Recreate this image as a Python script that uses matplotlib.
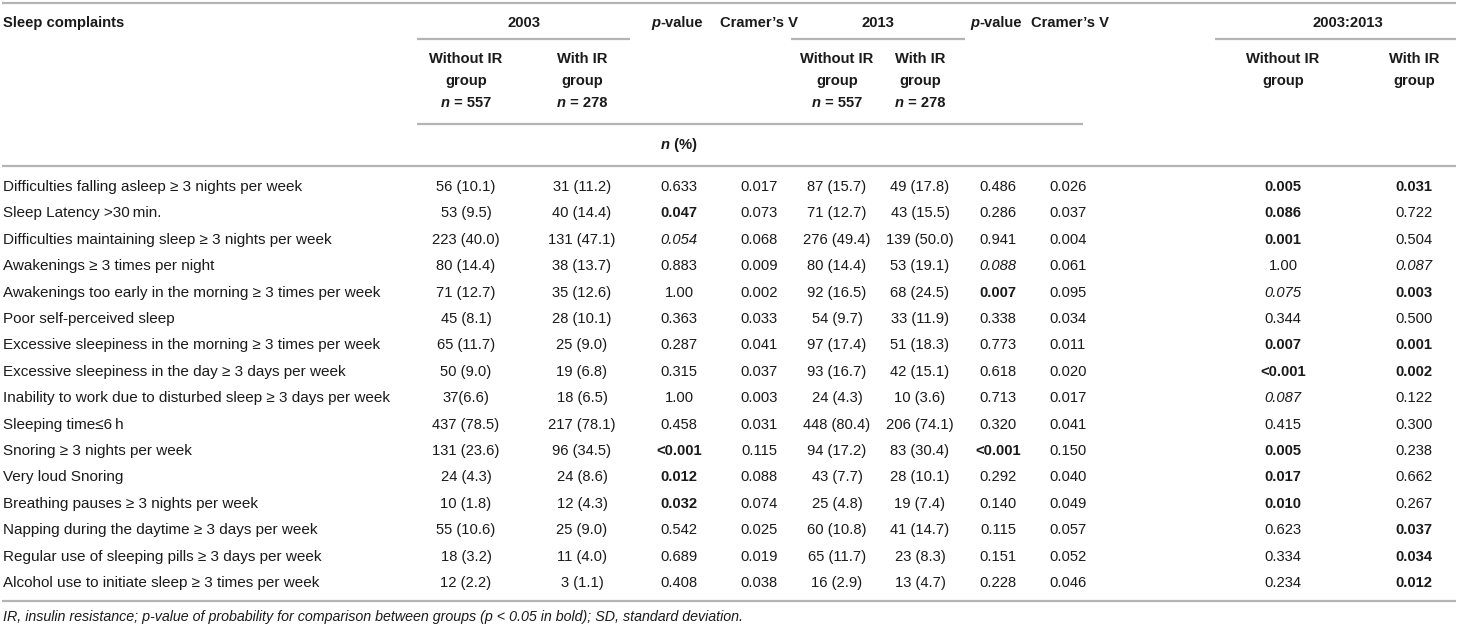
import matplotlib.pyplot as plt

# dados da tabela
complaints = [
    "Difficulties falling asleep \u2265 3 nights per week",
    "Sleep Latency >30\u2009min.",
    "Difficulties maintaining sleep \u2265 3 nights per week",
    "Awakenings \u2265 3 times per night",
    "Awakenings too early in the morning \u2265 3 times per week",
    "Poor self-perceived sleep",
    "Excessive sleepiness in the morning \u2265 3 times per week",
    "Excessive sleepiness in the day \u2265 3 days per week",
    "Inability to work due to disturbed sleep \u2265 3 days per week",
    "Sleeping time\u22646\u2009h",
    "Snoring \u2265 3 nights per week",
    "Very loud Snoring",
    "Breathing pauses \u2265 3 nights per week",
    "Napping during the daytime \u2265 3 days per week",
    "Regular use of sleeping pills \u2265 3 days per week",
    "Alcohol use to initiate sleep \u2265 3 times per week",
]
without_2003 = ["56 (10.1)", "53 (9.5)", "223 (40.0)", "80 (14.4)", "71 (12.7)", "45 (8.1)", "65 (11.7)", "50 (9.0)",
                "37(6.6)", "437 (78.5)", "131 (23.6)", "24 (4.3)", "10 (1.8)", "55 (10.6)", "18 (3.2)", "12 (2.2)"]
with_2003 = ["31 (11.2)", "40 (14.4)", "131 (47.1)", "38 (13.7)", "35 (12.6)", "28 (10.1)", "25 (9.0)", "19 (6.8)",
             "18 (6.5)", "217 (78.1)", "96 (34.5)", "24 (8.6)", "12 (4.3)", "25 (9.0)", "11 (4.0)", "3 (1.1)"]
p_2003 = ["0.633", "0.047", "0.054", "0.883", "1.00", "0.363", "0.287", "0.315",
          "1.00", "0.458", "<0.001", "0.012", "0.032", "0.542", "0.689", "0.408"]
v_2003 = ["0.017", "0.073", "0.068", "0.009", "0.002", "0.033", "0.041", "0.037",
          "0.003", "0.031", "0.115", "0.088", "0.074", "0.025", "0.019", "0.038"]
without_2013 = ["87 (15.7)", "71 (12.7)", "276 (49.4)", "80 (14.4)", "92 (16.5)", "54 (9.7)", "97 (17.4)", "93 (16.7)",
                "24 (4.3)", "448 (80.4)", "94 (17.2)", "43 (7.7)", "25 (4.8)", "60 (10.8)", "65 (11.7)", "16 (2.9)"]
with_2013 = ["49 (17.8)", "43 (15.5)", "139 (50.0)", "53 (19.1)", "68 (24.5)", "33 (11.9)", "51 (18.3)", "42 (15.1)",
             "10 (3.6)", "206 (74.1)", "83 (30.4)", "28 (10.1)", "19 (7.4)", "41 (14.7)", "23 (8.3)", "13 (4.7)"]
p_2013 = ["0.486", "0.286", "0.941", "0.088", "0.007", "0.338", "0.773", "0.618",
          "0.713", "0.320", "<0.001", "0.292", "0.140", "0.115", "0.151", "0.228"]
v_2013 = ["0.026", "0.037", "0.004", "0.061", "0.095", "0.034", "0.011", "0.020",
          "0.017", "0.041", "0.150", "0.040", "0.049", "0.057", "0.052", "0.046"]
p_without = ["0.005", "0.086", "0.001", "1.00", "0.075", "0.344", "0.007", "<0.001",
             "0.087", "0.415", "0.005", "0.017", "0.010", "0.623", "0.334", "0.234"]
p_with = ["0.031", "0.722", "0.504", "0.087", "0.003", "0.500", "0.001", "0.002",
          "0.122", "0.300", "0.238", "0.662", "0.267", "0.037", "0.034", "0.012"]

# estilo das celulas: b = negrito, i = italico
st_p2003 = ["", "b", "i", "", "", "", "", "", "", "", "b", "b", "b", "", "", ""]
st_p2013 = ["", "", "", "i", "b", "", "", "", "", "", "b", "", "", "", "", ""]
st_without = ["b", "b", "b", "", "i", "", "b", "b", "i", "", "b", "b", "b", "", "", ""]
st_with = ["b", "", "", "i", "b", "", "b", "b", "", "", "", "", "", "b", "b", "b"]
plain = [""] * 16

W, H = 1458, 632
fig = plt.figure(figsize=(W / 100, H / 100), dpi=100)
ax = fig.add_axes([0, 0, 1, 1])
ax.set_xlim(0, W)
ax.set_ylim(H, 0)
ax.axis('off')

FONT = "Liberation Sans"
FS = 10.6      # numeros
FSL = 11.0     # nomes das queixas
FSH = 10.6     # cabecalho
FSN = 10.3     # nota
COR = "#1a1a1a"
LINHA = "#b4b4b4"
renderer = fig.canvas.get_renderer()


def rich(x, y, parts, ha='center', fs=FSH):
    # escreve pedacos com estilos diferentes lado a lado
    txts = []
    for s, w, it in parts:
        t = ax.text(0, y, s, fontsize=fs, family=FONT, fontweight=w, fontstyle=it,
                    color=COR, va='center', ha='left')
        txts.append(t)
    widths = [t.get_window_extent(renderer).width for t in txts]
    total = sum(widths)
    x0 = x - total / 2 if ha == 'center' else x
    for t, wd in zip(txts, widths):
        t.set_x(x0)
        x0 += wd


def cell(x, y, s, style):
    w = 'bold' if style == 'b' else 'normal'
    it = 'italic' if style == 'i' else 'normal'
    ax.text(x, y, s, fontsize=FS, family=FONT, fontweight=w, fontstyle=it,
            color=COR, va='center', ha='center')


# colunas
cx = [466, 582, 679, 759, 837, 920, 998, 1068, 1283, 1414]
cols = [without_2003, with_2003, p_2003, v_2003, without_2013, with_2013, p_2013, v_2013, p_without, p_with]
styles = [plain, plain, st_p2003, plain, plain, plain, st_p2013, plain, st_without, st_with]

# cabecalho
y1, y2, y3, y4 = 23, 59, 81, 103
rich(3, y1, [("Sleep complaints", 'bold', 'normal')], ha='left')
for x, lab in [(524, "2003"), (878, "2013"), (1348, "2003:2013")]:
    rich(x, y1, [(lab, 'bold', 'normal')])
for x in [677, 996]:
    rich(x, y1, [("p", 'bold', 'italic'), ("-value", 'bold', 'normal')])
for x in [759, 1070]:
    rich(x, y1, [("Cramer\u2019s V", 'bold', 'normal')])
for i, x in enumerate([466, 582, 837, 920, 1283, 1414]):
    rich(x, y2, [("Without IR" if i % 2 == 0 else "With IR", 'bold', 'normal')])
    rich(x, y3, [("group", 'bold', 'normal')])
    if i < 4:
        rich(x, y4, [("n", 'bold', 'italic'), (" = " + ("557" if i % 2 == 0 else "278"), 'bold', 'normal')])
rich(679, 145, [("n", 'bold', 'italic'), (" (%)", 'bold', 'normal')])

# linhas
lw = 1.6
ax.hlines(3, 2, 1456, color=LINHA, lw=lw)
ax.hlines(39, 417, 630, color=LINHA, lw=lw)
ax.hlines(39, 791, 965, color=LINHA, lw=lw)
ax.hlines(39, 1215, 1456, color=LINHA, lw=lw)
ax.hlines(124, 417, 1083, color=LINHA, lw=lw)
ax.hlines(166, 2, 1456, color=LINHA, lw=lw)
ax.hlines(601, 2, 1456, color=LINHA, lw=lw)

# corpo
row0, dy = 187, 26.4
for r, lab in enumerate(complaints):
    y = row0 + r * dy
    ax.text(3, y, lab, fontsize=FSL, family=FONT, color=COR, va='center', ha='left')
    for x, col, st in zip(cx, cols, styles):
        cell(x, y, col[r], st[r])

# nota de rodape
rich(3, 617, [("IR, insulin resistance; p-value of probability for comparison between groups (p < 0.05 in bold); "
               "SD, standard deviation.", 'normal', 'italic')], ha='left', fs=FSN)

fig.savefig("out.png", dpi=100)
